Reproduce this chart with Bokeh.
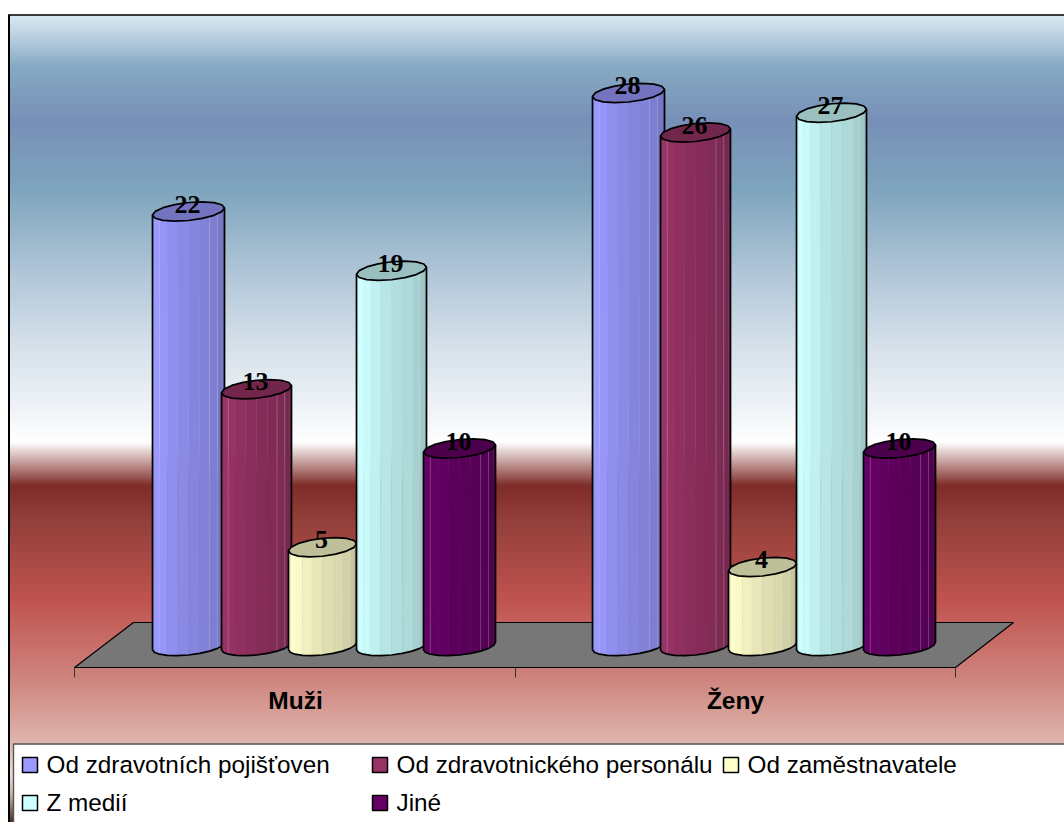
import numpy as np
from bokeh.core.properties import value
from bokeh.embed import file_html
from bokeh.models import Range1d
from bokeh.plotting import figure
from bokeh.resources import INLINE

# Survey answers per group
categories = ["Muži", "Ženy"]
series_names = ["Od zdravotních pojišťoven", "Od zdravotnického personálu",
                "Od zaměstnavatele", "Z medií", "Jiné"]
series_colors = ["#9999FF", "#993366", "#FFFFCC", "#CCFFFF", "#660066"]
series_values = [[22, 28], [13, 26], [5, 4], [19, 27], [10, 10]]

# Layout: the canvas is addressed in pixels horizontally and in chart units vertically
W, H = 1064, 822
UNIT = 19.75      # pixels per chart unit
BASE = 645.5      # pixel row of value 0 at the cylinder axis


def v(py):
    """Chart value at a pixel row."""
    return (BASE - np.asarray(py, dtype=float)) / UNIT


bar_centers = [[188, 628], [256, 695], [322, 762], [391, 831], [459, 899]]
bar_half = [36, 35, 34, 35, 36]
ELL_B = 9.0       # half height of the cylinder cap, pixels
ELL_S = 3.6       # tilt of the cap, pixels

p = figure(width=W, height=H, output_backend="svg", toolbar_location=None,
           x_range=Range1d(0, W), y_range=Range1d(float(v(H)), float(v(0))),
           min_border=0, outline_line_color=None)
p.axis.visible = False
p.grid.visible = False
p.background_fill_color = "#ffffff"
p.border_fill_color = "#ffffff"

# Background gradient behind the plot area; bands overlap so no seams show
stops_y = [14, 40, 65, 120, 190, 280, 340, 400, 442, 485, 520, 600, 680, 745, 775, 795, 822]
stops_c = ["#DCEAF5", "#B4CCDD", "#86ABC4", "#7890B8", "#7FA5BE", "#B5C9DA", "#D3DFE9",
           "#ECF1F6", "#FFFFFF", "#7F2D29", "#93403B", "#C05450", "#CF8680", "#E0B8B0",
           "#EBD8D5", "#C8B0AA", "#4A2A24"]
rgb = np.array([[int(c[i:i + 2], 16) for i in (1, 3, 5)] for c in stops_c], dtype=float)
rows = np.arange(14, H)
band_cols = ["#%02x%02x%02x" % tuple(int(np.interp(r + .5, stops_y, rgb[:, k])) for k in range(3))
             for r in rows]
p.quad(left=8, right=W, top=v(rows), bottom=v(rows + 2), fill_color=band_cols, line_color=None)
p.line([8.5, 8.5], [v(14), v(H)], line_color="#000000", line_width=2)
p.line([8, W], [v(14.5), v(14.5)], line_color="#000000", line_width=1.5)

# Floor of the 3D scene
p.patch([74, 955, 1013, 133], v([667, 667, 622, 622]), fill_color="#777777",
        line_color="#000000", line_width=1.2)
for tx in (74, 515, 955):
    p.line([tx, tx], [v(667), v(677)], line_color="#333333", line_width=1)


def shade(color, f):
    c = [int(color[i:i + 2], 16) for i in (1, 3, 5)]
    return "#%02x%02x%02x" % tuple(int(round(x * f)) for x in c)


def cap_y(cy, t):
    return cy + ELL_B * np.sin(t) + ELL_S * -np.cos(t)


FACETS = 10
facet_t = np.linspace(np.pi, 0, FACETS + 1)
facet_shade = [.96, 1.0, .98, .94, .90, .87, .85, .82, .78, .74]
ring = np.linspace(0, 2 * np.pi, 17)

for s, color in enumerate(series_colors):
    a = bar_half[s]
    for g in range(len(categories)):
        val = series_values[s][g]
        cx = bar_centers[s][g]
        top = BASE - val * UNIT
        for i in range(FACETS):
            t0, t1 = facet_t[i], facet_t[i + 1]
            x0, x1 = cx + a * np.cos(t0), cx + a * np.cos(t1)
            px = [x0, x1, x1, x0]
            py = [cap_y(top, t0), cap_y(top, t1), cap_y(BASE, t1), cap_y(BASE, t0)]
            col = shade(color, facet_shade[i])
            p.patch(px, v(py), fill_color=col, line_color=col, line_width=.4)
        # Thin highlights between some facets
        for i in (2, 7, 8):
            xl = cx + a * np.cos(facet_t[i])
            p.line([xl, xl], v([cap_y(top, facet_t[i]), cap_y(BASE, facet_t[i])]),
                   line_color="#ffffff", line_alpha=.2, line_width=1)
        # Cylinder outline
        ft = facet_t
        ox = np.r_[cx + a * np.cos(ft), cx + a, cx - a]
        oy = np.r_[cap_y(BASE, ft), cap_y(top, 0.0), cap_y(top, np.pi)]
        p.patch(ox, v(oy), fill_color=None, line_color="#000000", line_width=1.7)
        # Cap
        p.patch(cx + a * np.cos(ring), v(cap_y(top, ring)), fill_color=shade(color, .75),
                line_color="#000000", line_width=1.7)
        p.text([cx - 1], [v(top - 7.5)], text=[str(val)], text_font=value("Liberation Serif"),
               text_font_style="bold", text_font_size="26px", text_color="#000000",
               text_align="center", text_baseline="middle")

# Category names
p.text([295, 735], v([700, 700]), text=categories, text_font=value("Liberation Sans"),
       text_font_style="bold", text_font_size="24.5px", text_color="#000000",
       text_align="center", text_baseline="middle")

# Legend box
p.quad(left=[13], right=[W + 2], top=[v(743.5)], bottom=[v(H + 2)], fill_color="#ffffff",
       line_color="#555555", line_width=1.4)
legend_x = [22, 372, 723, 22, 372]
legend_y = [764.5, 764.5, 764.5, 802.5, 802.5]
for name, color, lx, ly in zip(series_names, series_colors, legend_x, legend_y):
    p.quad(left=[lx], right=[lx + 15], top=[v(ly - 7.5)], bottom=[v(ly + 7.5)],
           fill_color=color, line_color="#000000", line_width=1.5)
    p.text([lx + 24], [v(ly - 1)], text=[name], text_font=value("Liberation Sans"),
           text_font_size="24.3px", text_color="#000000", text_baseline="middle")

open("out.html", "w").write(file_html(p, INLINE))
